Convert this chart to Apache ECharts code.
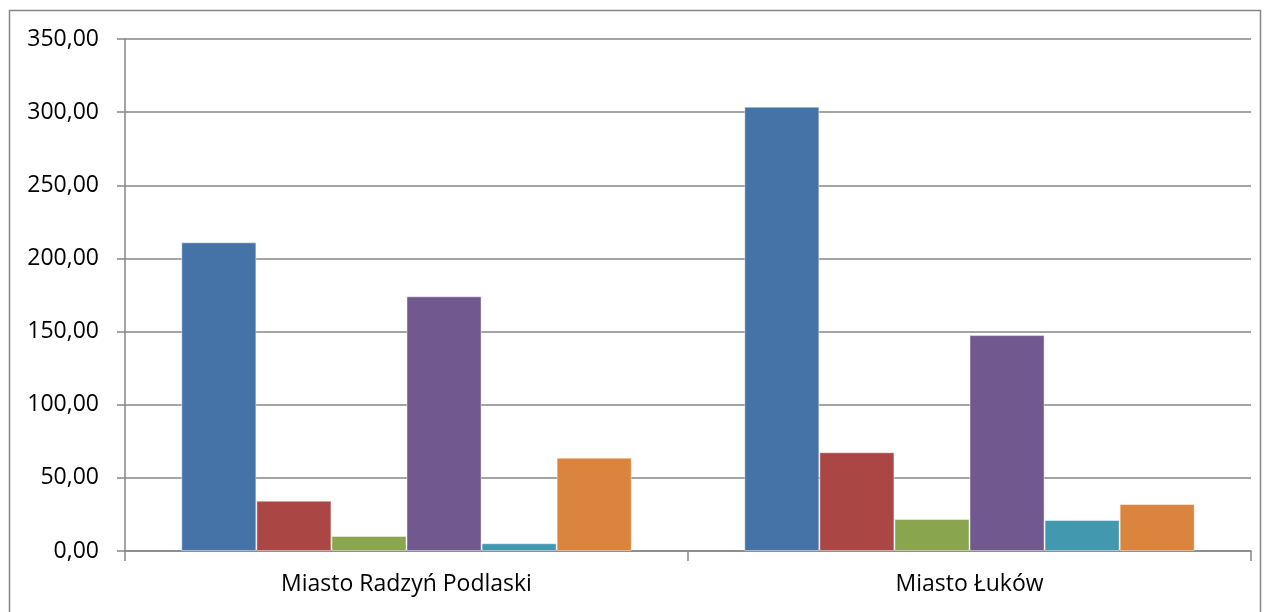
<!DOCTYPE html>
<html>
<head>
<meta charset="utf-8">
<script src="https://cdn.jsdelivr.net/npm/echarts@6/dist/echarts.min.js"></script>
<style>
  html, body { margin: 0; padding: 0; background: #fff; }
  #main { width: 1270px; height: 612px; }
</style>
</head>
<body>
<div id="main"></div>
<script>
// kategorie (miasta)
var categories = ['Miasto Radzyń Podlaski', 'Miasto Łuków'];

// wartości serii
var seria1 = [211, 303.7];
var seria2 = [34.4, 67.5];
var seria3 = [10.3, 21.9];
var seria4 = [174.1, 147.6];
var seria5 = [5.3, 21.2];
var seria6 = [63.8, 32.1];

var colors = ['#4572A7', '#AA4643', '#89A54E', '#71588F', '#4198AF', '#DB843D'];
var allSeries = [seria1, seria2, seria3, seria4, seria5, seria6];

var chart = echarts.init(document.getElementById('main'));

var series = [];
for (var i = 0; i < allSeries.length; i++) {
  series.push({
    name: 'Seria ' + (i + 1),
    type: 'bar',
    data: allSeries[i],
    barGap: '0%',
    barCategoryGap: '20%',
    itemStyle: {
      color: colors[i],
      borderColor: 'rgba(255,255,255,0.45)',
      borderWidth: 1
    }
  });
}

var option = {
  animation: false,
  backgroundColor: '#fff',
  grid: { left: 125, right: 19, top: 39, bottom: 61 },
  graphic: [{
    type: 'rect',
    shape: { x: 9.5, y: 10.5, width: 1251, height: 610 },
    style: { fill: 'none', stroke: '#868686', lineWidth: 1.5 },
    silent: true
  }],
  xAxis: {
    type: 'category',
    data: categories,
    axisLine: { lineStyle: { color: '#868686', width: 1.5 } },
    axisTick: { show: true, length: 10, lineStyle: { color: '#868686', width: 1.5 } },
    axisLabel: {
      color: '#000',
      fontFamily: 'Open Sans',
      fontSize: 23,
      margin: 22
    }
  },
  yAxis: {
    type: 'value',
    min: 0,
    max: 350,
    interval: 50,
    axisLine: { show: true, lineStyle: { color: '#868686', width: 1.5 } },
    axisTick: { show: true, length: 8, lineStyle: { color: '#868686', width: 1.5 } },
    splitLine: { lineStyle: { color: '#868686', width: 1.5 } },
    axisLabel: {
      color: '#000',
      fontFamily: 'Open Sans',
      fontSize: 23,
      margin: 26,
      formatter: function (v) { return v.toFixed(2).replace('.', ','); }
    }
  },
  series: series
};

chart.setOption(option);
</script>
</body>
</html>
